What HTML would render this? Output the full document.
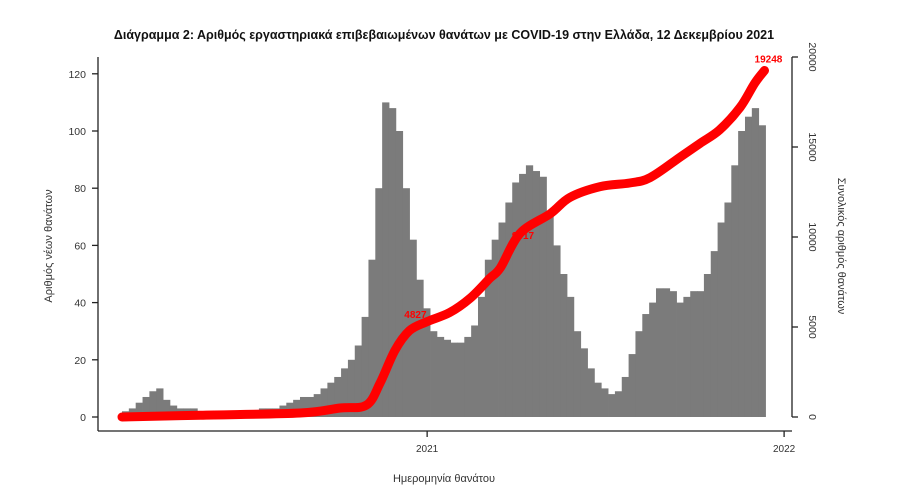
<!DOCTYPE html>
<html><head><meta charset="utf-8">
<style>
body{margin:0;background:#fff;}
svg{display:block;font-family:"Liberation Sans",sans-serif;}
</style></head>
<body>
<svg id="chart" width="912" height="500" viewBox="0 0 912 500">
<text x="444" y="39" text-anchor="middle" font-size="12.5" font-weight="bold" fill="#111">Διάγραμμα 2: Αριθμός εργαστηριακά επιβεβαιωμένων θανάτων με COVID-19 στην Ελλάδα, 12 Δεκεμβρίου 2021</text>
<g id="bars"></g>
<g id="labels"></g>
<path id="cumline" fill="none" stroke="#ff0000" stroke-width="9" stroke-linecap="round" stroke-linejoin="round"/>
<g id="axes" stroke="#222" stroke-width="1.3" fill="none">
<line x1="98" y1="57" x2="98" y2="431"/>
<line x1="98" y1="431" x2="792" y2="431"/>
<line x1="792" y1="57" x2="792" y2="417"/>
</g>
<g id="ticks"></g>
<text x="444" y="482" text-anchor="middle" font-size="11" fill="#333">Ημερομηνία θανάτου</text>
<text transform="translate(52,246) rotate(-90)" text-anchor="middle" font-size="11" fill="#333">Αριθμός νέων θανάτων</text>
<text transform="translate(838,246) rotate(90)" text-anchor="middle" font-size="11" fill="#333">Συνολικός αριθμός θανάτων</text>
</svg>
<script>
const weeklyDeaths=[2,3,5,7,9,10,6,4,3,3,3,2,2,2,2,2,2,2,2,2,3,3,3,4,5,6,7,7,8,10,12,14,17,20,25,35,55,80,110,108,100,80,62,48,38,30,28,27,26,26,28,32,42,55,62,68,75,82,85,88,86,84,72,60,50,42,30,24,17,12,10,8,9,14,22,30,36,40,45,45,44,40,42,44,44,50,58,68,75,88,100,105,108,102];
const cumDays=[0,80,182,223,250,264,279,294,312,335,356,376,387,407,438,458,489,519,540,571,591,611,632,647,657];
const cumValues=[0,100,220,500,660,1900,3700,4800,5300,5800,6600,7700,8300,10200,11300,12200,12800,13000,13300,14450,15200,15950,17200,18550,19248];
const cumLabelDays=[300,410,661];
const cumLabelText=["4827","9617","19248"];
const cumLabelValues=[5500,9900,19700];
const leftTicks=[0,20,40,60,80,100,120];
const rightTicks=[0,5000,10000,15000,20000];
const yearTickDays=[312,677];
const yearTickLabels=["2021","2022"];

const NS="http://www.w3.org/2000/svg";
const x=d=>122+d*0.978;
const yL=v=>417-v*2.86;
const yR=v=>417-v*0.018;
function mk(tag,parent){const e=document.createElementNS(NS,tag);parent.appendChild(e);return e;}

const bars=document.getElementById('bars');
weeklyDeaths.forEach((v,i)=>{
  const r=mk('rect',bars);
  
  
  r.setAttribute('x',x(i*7));r.setAttribute('width',7*0.978+0.4);
  r.setAttribute('y',yL(v));r.setAttribute('height',417-yL(v));
  r.setAttribute('fill','#7b7b7b');
});

const labels=document.getElementById('labels');
cumLabelText.forEach((t,i)=>{
  const e=mk('text',labels);
  
  
  e.setAttribute('x',x(cumLabelDays[i]));e.setAttribute('y',yR(cumLabelValues[i]));
  e.setAttribute('text-anchor','middle');e.setAttribute('font-size','10');e.setAttribute('font-weight','bold');e.setAttribute('fill','#ff0000');
  e.textContent=t;
});

const pts=cumDays.map((dd,i)=>[x(dd),yR(cumValues[i])]);
let d='M'+pts[0][0].toFixed(1)+' '+pts[0][1].toFixed(1);
for(let i=0;i<pts.length-1;i++){
  const p0=pts[Math.max(0,i-1)],p1=pts[i],p2=pts[i+1],p3=pts[Math.min(pts.length-1,i+2)];
  const c1=[p1[0]+(p2[0]-p0[0])/6,p1[1]+(p2[1]-p0[1])/6];
  const c2=[p2[0]-(p3[0]-p1[0])/6,p2[1]-(p3[1]-p1[1])/6];
  d+='C'+c1[0].toFixed(1)+' '+c1[1].toFixed(1)+' '+c2[0].toFixed(1)+' '+c2[1].toFixed(1)+' '+p2[0].toFixed(1)+' '+p2[1].toFixed(1);
}
document.getElementById('cumline').setAttribute('d',d);

const ticks=document.getElementById('ticks');
leftTicks.forEach(v=>{
  const l=mk('line',ticks);
  
  
  l.setAttribute('x1',92);l.setAttribute('x2',98);l.setAttribute('y1',yL(v));l.setAttribute('y2',yL(v));l.setAttribute('stroke','#222');l.setAttribute('stroke-width','1.3');
  const t=mk('text',ticks);
  
  
  t.setAttribute('x',86);t.setAttribute('y',yL(v)+4);t.setAttribute('text-anchor','end');t.setAttribute('font-size','10.5');t.setAttribute('fill','#333');
  t.textContent=v;
});
rightTicks.forEach(v=>{
  const l=mk('line',ticks);
  
  
  l.setAttribute('x1',792);l.setAttribute('x2',798);l.setAttribute('y1',yR(v));l.setAttribute('y2',yR(v));l.setAttribute('stroke','#222');l.setAttribute('stroke-width','1.3');
  const t=mk('text',ticks);
  
  
  t.setAttribute('transform','translate(809,'+yR(v)+') rotate(90)');t.setAttribute('text-anchor','middle');t.setAttribute('font-size','10.5');t.setAttribute('fill','#333');
  t.textContent=v;
});
yearTickDays.forEach((dd,i)=>{
  const l=mk('line',ticks);
  
  
  l.setAttribute('x1',x(dd));l.setAttribute('x2',x(dd));l.setAttribute('y1',431);l.setAttribute('y2',437);l.setAttribute('stroke','#222');l.setAttribute('stroke-width','1.3');
  const t=mk('text',ticks);
  
  
  t.setAttribute('x',x(dd));t.setAttribute('y',452);t.setAttribute('text-anchor','middle');t.setAttribute('font-size','10');t.setAttribute('fill','#333');
  t.textContent=yearTickLabels[i];
});
</script>
</body></html>
